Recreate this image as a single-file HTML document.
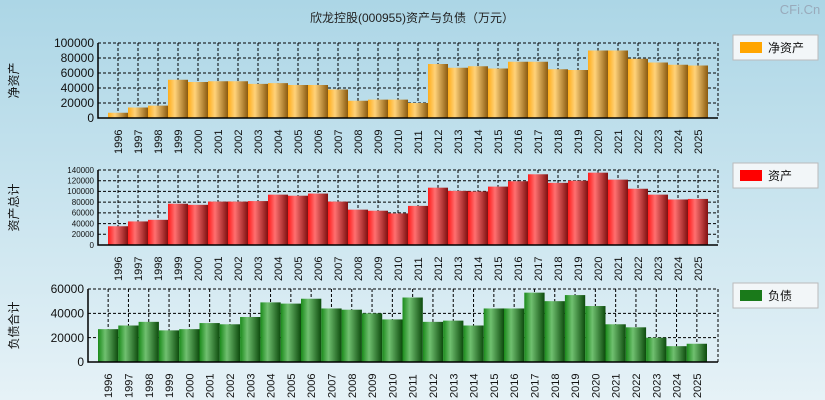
<!DOCTYPE html>
<html><head><meta charset="utf-8"><style>
body{margin:0;width:825px;height:400px;overflow:hidden;background:linear-gradient(#acd6e6,#e6f2f7);font-family:"Liberation Sans","Noto Sans CJK SC",sans-serif}
svg{display:block}
</style></head><body>
<svg id="c" width="825" height="400" font-family="Liberation Sans, Noto Sans CJK SC, sans-serif">
<defs>
<linearGradient id="gO" x1="0" x2="1"><stop offset="0" stop-color="#ffad1a"/><stop offset="0.35" stop-color="#ffd27a"/><stop offset="1" stop-color="#8a5a10"/></linearGradient>
<linearGradient id="gR" x1="0" x2="1"><stop offset="0" stop-color="#ff1a1a"/><stop offset="0.35" stop-color="#ff7070"/><stop offset="1" stop-color="#801010"/></linearGradient>
<linearGradient id="gG" x1="0" x2="1"><stop offset="0" stop-color="#1a8a1a"/><stop offset="0.35" stop-color="#70c070"/><stop offset="1" stop-color="#0c4a0c"/></linearGradient>
</defs>
<text x="412" y="22" text-anchor="middle" font-size="12" fill="#222">欣龙控股(000955)资产与负债（万元）</text>
<text x="800" y="14" text-anchor="middle" font-size="13" fill="#9ab">CFi.Cn</text>
</svg>
<script>
const years=['1996','1997','1998','1999','2000','2001','2002','2003','2004','2005','2006','2007','2008','2009','2010','2011','2012','2013','2014','2015','2016','2017','2018','2019','2020','2021','2022','2023','2024','2025'];
const netAssets=[7000,14000,16500,51000,48000,49000,49000,45500,46500,44000,44000,38000,23000,24500,24500,20000,72000,67000,69000,66000,75000,75000,65000,64000,90000,90000,79000,74000,71000,70000];
const totalAssets=[35000,44000,47000,77000,75000,81000,81000,82000,94000,92000,96000,81000,66000,64000,59000,73000,107000,101000,100000,109000,119000,132000,116000,120000,135000,122000,105000,94000,85000,86000];
const liabilities=[27000,30000,33000,26000,27000,32000,31000,37000,49000,48000,52000,44000,43000,40000,35000,53000,33000,34000,30000,44000,44000,57000,50000,55000,46000,31000,28500,20000,13000,15000];
const ticksTop=[0,20000,40000,60000,80000,100000];
const ticksMid=[0,20000,40000,60000,80000,100000,120000,140000];
const ticksBot=[0,20000,40000,60000];
const svg=document.getElementById('c');
const NS='http://www.w3.org/2000/svg';
function mk(t,a,txt){const e=document.createElementNS(NS,t);for(const k in a)e.setAttribute(k,a[k]);if(txt!=null)e.textContent=txt;svg.appendChild(e);return e;}
function panel(o){
  const {x0,x1,yTop,yBot,max,ticks,vals,grad,color,fs,ylabel,legend,ly,name,b0,bw}=o;
  const ys=v=>yBot-(v/max)*(yBot-yTop);
  const xc=i=>b0+bw*(i+0.5);
  for(const t of ticks){
    const g=mk('line',{x1:x0,x2:x1,y1:ys(t),y2:ys(t),stroke:'#000','stroke-dasharray':'3,2','stroke-width':1});
    
    const l=mk('text',{x:x0-4,y:ys(t)+fs*0.35,'text-anchor':'end','font-size':fs,fill:'#111'},String(t));
    
  }
  years.forEach((y,i)=>{
    const g=mk('line',{x1:xc(i),x2:xc(i),y1:yTop,y2:yBot,stroke:'#000','stroke-dasharray':'3,2'});
    
  });
  mk('line',{x1:x1,x2:x1,y1:yTop,y2:yBot,stroke:'#000','stroke-dasharray':'3,2'});
  vals.forEach((v,i)=>{
    const r=mk('rect',{x:b0+bw*i,y:ys(v),width:bw,height:yBot-ys(v),fill:'url(#'+grad+')'});
    
    const t=mk('text',{transform:`translate(${xc(i)+4},${yBot+36}) rotate(-90)`,'font-size':11,fill:'#111'},years[i]);
    
  });
  const ax=mk('path',{d:`M${x0},${yTop}V${yBot}H${x1}`,stroke:'#000',fill:'none','stroke-width':1.5});
  
  const yl=mk('text',{transform:`translate(18,${(yTop+yBot)/2}) rotate(-90)`,'text-anchor':'middle','font-size':12,fill:'#111'},ylabel);
  
  const lb=mk('rect',{x:733,y:ly,width:85,height:25,fill:'#f2f6f8',stroke:'#bbb'});
  
  const sw=mk('rect',{x:740,y:ly+7,width:22,height:11,fill:color});
  
  const lt=mk('text',{x:768,y:ly+17,'font-size':12,fill:'#111'},legend);
  
}
panel({x0:98,x1:718,yTop:43,yBot:118,max:100000,ticks:ticksTop,vals:netAssets,grad:'gO',color:'#ffa500',fs:12,ylabel:'净资产',legend:'净资产',ly:35,name:'net-assets',b0:108,bw:20});
panel({x0:98,x1:718,yTop:170,yBot:245,max:140000,ticks:ticksMid,vals:totalAssets,grad:'gR',color:'#ff0000',fs:8,ylabel:'资产总计',legend:'资产',ly:163,name:'total-assets',b0:108,bw:20});
panel({x0:88,x1:718,yTop:289,yBot:362,max:60000,ticks:ticksBot,vals:liabilities,grad:'gG',color:'#1a7a1a',fs:12,ylabel:'负债合计',legend:'负债',ly:283,name:'liabilities',b0:98,bw:20.3});
</script>
</body></html>
